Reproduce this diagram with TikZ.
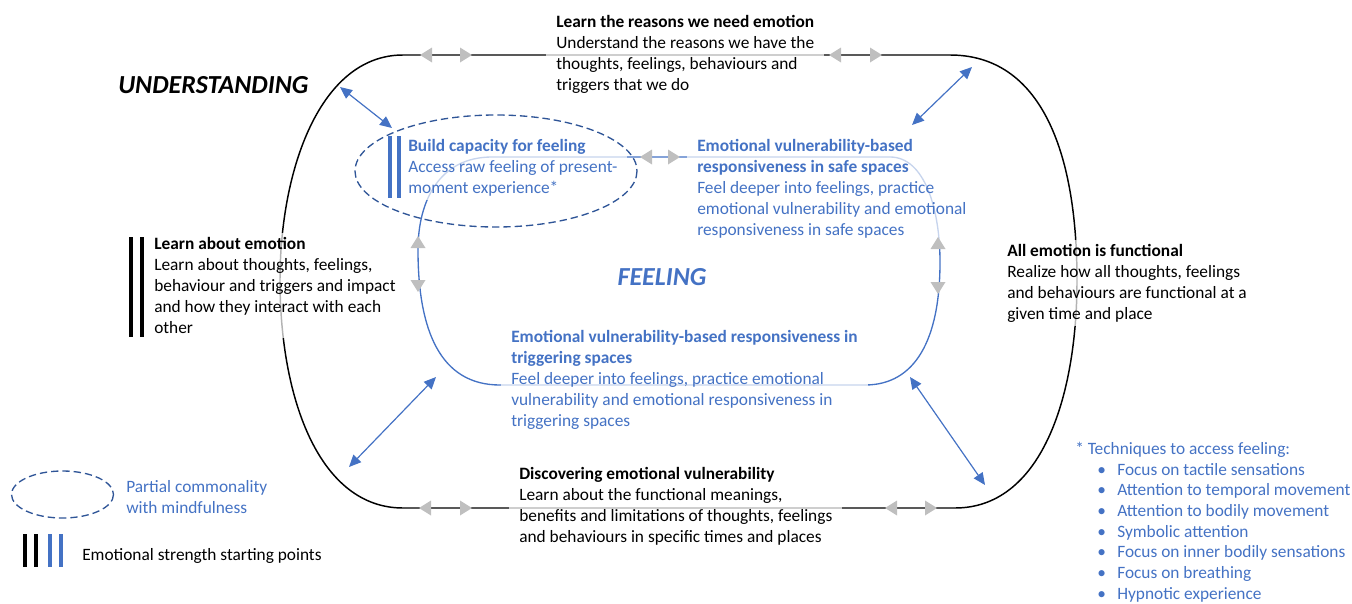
\documentclass[tikz,border=0pt]{standalone}
\usepackage{fontspec}
\setmainfont{Carlito}
\usetikzlibrary{arrows.meta}
\definecolor{accent}{HTML}{4472C4}
\definecolor{darkaccent}{HTML}{2F5597}
\definecolor{tipgray}{HTML}{BFBFBF}
\newcommand{\tech}{\hspace*{16.5pt}\makebox[15pt][l]{\textbullet}}
\tikzset{
  blurb/.style={anchor=north west, align=left, inner xsep=7.5pt, inner ysep=3pt,
    fill=white, fill opacity=0.7, text opacity=1, font=\fontsize{13}{15.75}\selectfont},
  plain/.style={anchor=north west, align=left, inner sep=0pt, font=\fontsize{13}{15.75}\selectfont},
  heading/.style={inner sep=0pt, font=\fontsize{19.5}{22}\selectfont\bfseries\itshape},
  outerloop/.style={line width=1.1pt},
  innerloop/.style={accent, line width=1pt},
  link/.style={accent, line width=0.9pt, {Triangle[length=9pt,width=8pt]}-{Triangle[length=9pt,width=8pt]}},
  bar/.style={line width=3pt},
  halo/.style={darkaccent, line width=1pt, dash pattern=on 5.5pt off 3pt},
  gtip/.pic={\fill[tipgray] (-6,-7.5) -- (6,0) -- (-6,7.5) -- cycle;}
}
\begin{document}
\begin{tikzpicture}[x=0.75pt,y=-0.75pt]
\useasboundingbox (0,0) rectangle (1352,603);

\draw[outerloop] (403,55) -- (950,55) .. controls (1040,55) and (1077,150) .. (1077,280)
  .. controls (1077,400) and (1040,508) .. (955,508) -- (403,508)
  .. controls (320,508) and (280,400) .. (280,280)
  .. controls (280,170) and (320,55) .. (403,55);
\draw[innerloop] (492,157) -- (890,157) .. controls (925,157) and (940,210) .. (940,262)
  .. controls (940,340) and (915,385) .. (865,385) -- (500,385)
  .. controls (440,385) and (418,330) .. (418,250)
  .. controls (418,200) and (440,157) .. (492,157);

\node[blurb] (reasons) at (546,11) {\textbf{Learn the reasons we need emotion}\\
  Understand the reasons we have the\\ thoughts, feelings, behaviours and\\ triggers that we do};
\node[blurb] (learnemo) at (144,233) {\textbf{Learn about emotion}\\
  Learn about thoughts, feelings,\\ behaviour and triggers and impact\\ and how they interact with each\\ other};
\node[blurb, text=accent] (build) at (398,135) {\textbf{Build capacity for feeling}\\
  Access raw feeling of present-\\ moment experience*};
\node[blurb, text=accent] (safe) at (687,135) {\textbf{Emotional vulnerability-based}\\
  \textbf{responsiveness in safe spaces}\\ Feel deeper into feelings, practice\\
  emotional vulnerability and emotional\\ responsiveness in safe spaces};
\node[blurb, text=accent] (trig) at (501,326) {\textbf{Emotional vulnerability-based responsiveness in}\\
  \textbf{triggering spaces}\\ Feel deeper into feelings, practice emotional\\
  vulnerability and emotional responsiveness in\\ triggering spaces};
\node[blurb] (discover) at (509,463) {\textbf{Discovering emotional vulnerability}\\
  Learn about the functional meanings,\\ benefits and limitations of thoughts, feelings\\
  and behaviours in specific times and places};
\node[blurb] (functional) at (997,240) {\textbf{All emotion is functional}\\
  Realize how all thoughts, feelings\\ and behaviours are functional at a\\ given time and place};

\node[heading, anchor=west] (understanding) at (118,85) {UNDERSTANDING};
\node[heading, text=accent] (feeling) at (662,277) {FEELING};

\node[plain, text=accent, font=\fontsize{13}{15.5}\selectfont] (techniques) at (1075,442) {* Techniques to access feeling:\\
  \tech Focus on tactile sensations\\ \tech Attention to temporal movement\\
  \tech Attention to bodily movement\\ \tech Symbolic attention\\
  \tech Focus on inner bodily sensations\\ \tech Focus on breathing\\ \tech Hypnotic experience};

\pic[rotate=180] at (426,55) {gtip};
\pic at (466,55) {gtip};
\pic[rotate=180] at (835,55) {gtip};
\pic at (876,55) {gtip};
\pic[rotate=180] at (425,508) {gtip};
\pic at (466,508) {gtip};
\pic[rotate=180] at (891,508) {gtip};
\pic at (931,508) {gtip};
\pic[rotate=180] at (646,157) {gtip};
\pic at (674,157) {gtip};
\pic[rotate=90] at (418,242) {gtip};
\pic[rotate=-90] at (418,286) {gtip};
\pic[rotate=90] at (938,243) {gtip};
\pic[rotate=-90] at (938,288) {gtip};

\coordinate (ulOut) at (340,87);
\coordinate (ulIn) at (392,128);
\coordinate (urOut) at (972,67);
\coordinate (urIn) at (912,125);
\coordinate (llIn) at (436,377);
\coordinate (llOut) at (349,467);
\coordinate (lrIn) at (910,377);
\coordinate (lrOut) at (985,485);
\draw[link] (ulOut) -- (ulIn);
\draw[link] (urOut) -- (urIn);
\draw[link] (llIn) -- (llOut);
\draw[link] (lrIn) -- (lrOut);

\draw[halo] (496,171) ellipse [x radius=141, y radius=56];
\draw[bar, accent] (389.5,136) -- (389.5,198);
\draw[bar, accent] (398.5,136) -- (398.5,198);
\draw[bar] (131,237) -- (131,337);
\draw[bar] (141.5,237) -- (141.5,337);

\draw[halo] (62.5,494.5) ellipse [x radius=51, y radius=23.5];
\node[plain, text=accent] (mindful) at (126,480) {Partial commonality\\ with mindfulness};
\draw[bar] (25,534) -- (25,567);
\draw[bar] (36,534) -- (36,567);
\draw[bar, accent] (50,534) -- (50,567);
\draw[bar, accent] (61,534) -- (61,567);
\node[plain] (strength) at (82,548) {Emotional strength starting points};
\end{tikzpicture}
\end{document}
